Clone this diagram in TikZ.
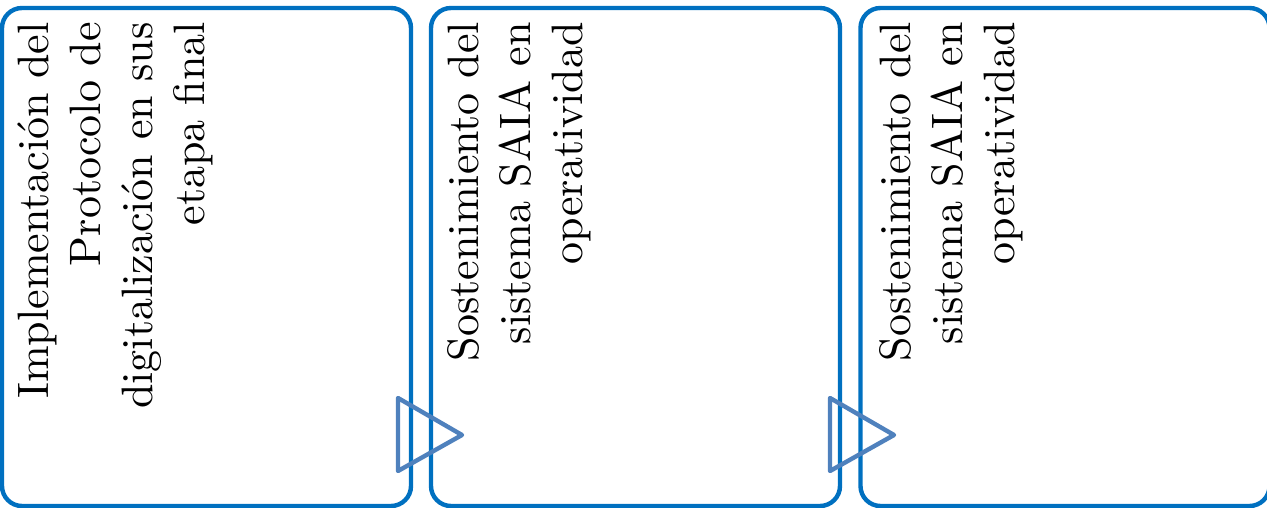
\documentclass[tikz,border=0pt]{standalone}
\usepackage{fontspec}
\setmainfont{lmroman10-regular.otf}
\usetikzlibrary{calc}
\definecolor{boxblue}{HTML}{0070C0}
\definecolor{triblue}{HTML}{4F81BD}
\tikzset{
  stagebox/.style={draw=boxblue, line width=4.4pt, rounded corners=20pt,
    minimum width=409pt, minimum height=498pt, inner sep=0pt},
  stagetext/.style={rotate=90, anchor=north east, align=right, inner sep=0pt,
    font=\fontsize{44}{52}\selectfont},
  flowtri/.style={draw=triblue, line width=4.4pt, line join=round}
}
\begin{document}
\begin{tikzpicture}[x=1pt,y=-1pt]
\useasboundingbox (0,0) rectangle (1267,508);
\clip (0,0) rectangle (1267,508);
\node[stagebox] (b1) at (206.5,257) {};
\node[stagebox] (b2) at (635.5,257) {};
\node[stagebox] (b3) at (1065,257) {};
\node[stagetext] (t1) at (17.5,22) {Implementación del\\Protocolo de\\digitalización en sus\\etapa final};
\node[stagetext] (t2) at (447,22) {Sostenimiento del\\sistema SAIA en\\operatividad};
\node[stagetext] (t3) at (879,22) {Sostenimiento del\\sistema SAIA en\\operatividad};
\coordinate (a1t) at (398,398);
\coordinate (a1p) at (462,435);
\coordinate (a1b) at (398,471);
\coordinate (a2t) at (830,398);
\coordinate (a2p) at (894,435);
\coordinate (a2b) at (830,471);
\draw[flowtri] (a1t) -- (a1p) -- (a1b) -- cycle;
\draw[flowtri] (a2t) -- (a2p) -- (a2b) -- cycle;
\end{tikzpicture}
\end{document}
